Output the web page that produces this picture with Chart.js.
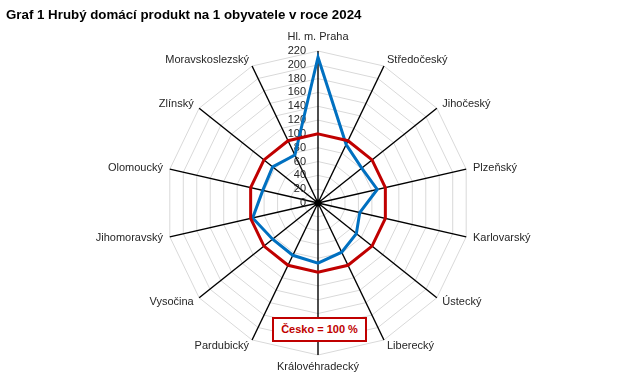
<!DOCTYPE html>
<html>
<head>
<meta charset="utf-8">
<script src="https://cdn.jsdelivr.net/npm/chart.js@4.4.1/dist/chart.umd.min.js"></script>
<style>
  html, body { margin: 0; padding: 0; background: #fff; }
  #wrap { position: relative; width: 642px; height: 387px; font-family: "Liberation Sans", Arial, sans-serif; }
  #title { position: absolute; left: 6px; top: 7px; font-size: 13.3px; font-weight: bold; color: #000; line-height: 16px; white-space: nowrap; }
  #note { position: absolute; left: 272px; top: 317px; width: 91px; height: 21px; border: 2px solid #c00000; background: #fff;
          color: #c00000; font-size: 11px; font-weight: bold; line-height: 21px; text-align: center; white-space: nowrap; }
  canvas { position: absolute; left: 0; top: 0; }
</style>
</head>
<body>
<div id="wrap">
  <canvas id="chart" width="642" height="387"></canvas>
  <div id="title">Graf 1 Hrubý domácí produkt na 1 obyvatele v roce 2024</div>
  <div id="note">Česko = 100 %</div>
</div>
<script>
var regions = ["Hl. m. Praha", "Středočeský", "Jihočeský", "Plzeňský", "Karlovarský", "Ústecký", "Liberecký",
  "Královéhradecký", "Pardubický", "Vysočina", "Jihomoravský", "Olomoucký", "Zlínský", "Moravskoslezský"];
var gdpIndex = [211, 94, 81, 88, 62, 71, 79, 87, 84, 84, 97, 82, 84, 77];
var czechia = [100, 100, 100, 100, 100, 100, 100, 100, 100, 100, 100, 100, 100, 100];
var tickValues = [0, 20, 40, 60, 80, 100, 120, 140, 160, 180, 200, 220];

var FONT = '"Liberation Sans", Arial, sans-serif';

// tick labels sit left of the vertical axis, under the series lines
var tickLabels = {
  id: "tickLabels",
  beforeDatasetsDraw: function(chart) {
    var scale = chart.scales.r;
    var ctx = chart.ctx;
    ctx.save();
    ctx.font = "11px " + FONT;
    ctx.fillStyle = "#262626";
    ctx.textAlign = "right";
    ctx.textBaseline = "middle";
    for (var i = 0; i < tickValues.length; i++) {
      var y = scale.yCenter - scale.getDistanceFromCenterForValue(tickValues[i]);
      ctx.fillText(String(tickValues[i]), scale.xCenter - 12, y);
    }
    ctx.restore();
  },
  afterDatasetsDraw: function(chart) {
    var scale = chart.scales.r;
    var ctx = chart.ctx;
    ctx.save();
    // dark hub where the spokes meet
    ctx.fillStyle = "#000";
    ctx.beginPath();
    ctx.arc(scale.xCenter, scale.yCenter, 3.5, 0, Math.PI * 2);
    ctx.fill();

    ctx.font = "11px " + FONT;
    ctx.fillStyle = "#262626";
    ctx.textBaseline = "middle";
    for (var i = 0; i < regions.length; i++) {
      var p = scale.getPointPosition(i, scale.drawingArea + 7);
      var dx = p.x - scale.xCenter;
      if (Math.abs(dx) < 1) {
        ctx.textAlign = "center";
        var off = p.y < scale.yCenter ? -7 : 5;
        ctx.fillText(regions[i], p.x, p.y + off);
      } else {
        ctx.textAlign = dx > 0 ? "left" : "right";
        ctx.fillText(regions[i], p.x, p.y);
      }
    }
    ctx.restore();
  }
};

var ctx = document.getElementById("chart");
var gdpChart = new Chart(ctx, {
  type: "radar",
  data: {
    labels: regions,
    datasets: [{
        label: "Česko",
        data: czechia,
        borderColor: "#c00000",
        borderWidth: 3,
        fill: false,
        pointRadius: 0,
        pointHoverRadius: 0
      }, {
        label: "HDP na obyvatele",
        data: gdpIndex,
        borderColor: "#0070c0",
        borderWidth: 3,
        fill: false,
        pointRadius: 0,
        pointHoverRadius: 0
      }
    ]
  },
  options: {
    responsive: false,
    animation: false,
    layout: { padding: { left: 166, right: 172, top: 51, bottom: 32 } },
    plugins: {
      legend: { display: false },
      tooltip: { enabled: false }
    },
    elements: { line: { tension: 0 } },
    scales: {
      r: {
        min: 0,
        max: 220,
        ticks: { stepSize: 20, display: false },
        grid: { color: "#d9d9d9", lineWidth: 1 },
        angleLines: { color: "#000", lineWidth: 1.4 },
        pointLabels: { display: false }
      }
    }
  },
  plugins: [tickLabels]
});
</script>
</body>
</html>
